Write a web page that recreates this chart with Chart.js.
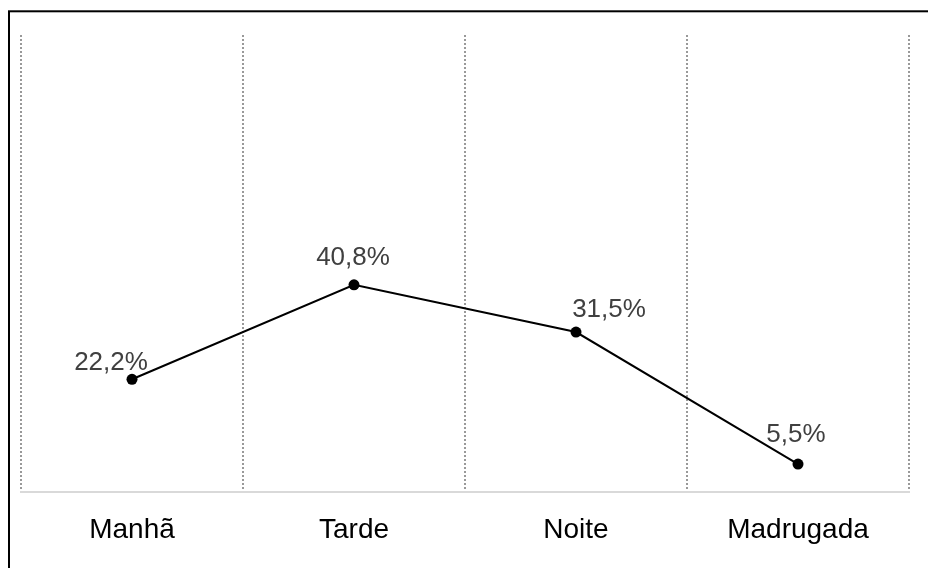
<!DOCTYPE html>
<html>
<head>
<meta charset="utf-8">
<script src="https://cdn.jsdelivr.net/npm/chart.js@4/dist/chart.umd.min.js"></script>
<style>
  html, body { margin: 0; padding: 0; background: #ffffff; }
  canvas { display: block; }
</style>
</head>
<body>
<canvas id="chart" width="928" height="568"></canvas>
<script>
// Share of occurrences by period of the day
const periods = ['Manhã', 'Tarde', 'Noite', 'Madrugada'];
const shares = [22.2, 40.8, 31.5, 5.5];

const FONT = '"Liberation Sans", Arial, sans-serif';

// Outer frame of the figure
const framePlugin = {
  id: 'frame',
  beforeDraw(chart) {
    const ctx = chart.ctx;
    ctx.save();
    ctx.fillStyle = '#ffffff';
    ctx.fillRect(0, 0, chart.width, chart.height);
    ctx.strokeStyle = '#000000';
    ctx.lineWidth = 2;
    ctx.strokeRect(9, 11.3, chart.width + 20, chart.height + 20);
    ctx.restore();
  }
};

// Percentage labels next to each point (comma decimal separator)
const valueLabelPlugin = {
  id: 'valueLabels',
  afterDatasetsDraw(chart) {
    const ctx = chart.ctx;
    const meta = chart.getDatasetMeta(0);
    const offsets = [[-21, -9.5], [-1, -20], [33, -15.5], [-2, -22.5]];
    ctx.save();
    ctx.font = '26px ' + FONT;
    ctx.fillStyle = '#404040';
    ctx.textAlign = 'center';
    ctx.textBaseline = 'alphabetic';
    meta.data.forEach((pt, i) => {
      const v = chart.data.datasets[0].data[i];
      const text = v.toFixed(1).replace('.', ',') + '%';
      const [dx, dy] = offsets[i] || [0, -16];
      ctx.fillText(text, pt.x + dx, pt.y + dy);
    });
    ctx.restore();
  }
};

new Chart(document.getElementById('chart'), {
  type: 'line',
  data: {
    labels: periods,
    datasets: [{
      data: shares,
      borderColor: '#000000',
      borderWidth: 2,
      pointBackgroundColor: '#000000',
      pointBorderColor: '#000000',
      pointRadius: 5.5,
      pointBorderWidth: 0,
      tension: 0,
      fill: false
    }]
  },
  options: {
    responsive: false,
    animation: false,
    devicePixelRatio: 1,
    layout: { padding: { left: 21, right: 19, top: 35, bottom: 0 } },
    plugins: {
      legend: { display: false },
      tooltip: { enabled: false }
    },
    scales: {
      x: {
        type: 'category',
        offset: true,
        grid: {
          offset: true,
          display: true,
          drawTicks: false,
          color: '#999999',
          lineWidth: 2
        },
        border: {
          display: true,
          color: '#d9d9d9',
          width: 2,
          dash: [2, 2]
        },
        ticks: {
          color: '#000000',
          font: { family: FONT, size: 28 },
          padding: 21,
          maxRotation: 0,
          autoSkip: false
        },
        afterFit(scale) { scale.height = 76; }
      },
      y: {
        display: false,
        min: 0,
        max: 90
      }
    }
  },
  plugins: [framePlugin, valueLabelPlugin]
});
</script>
</body>
</html>
